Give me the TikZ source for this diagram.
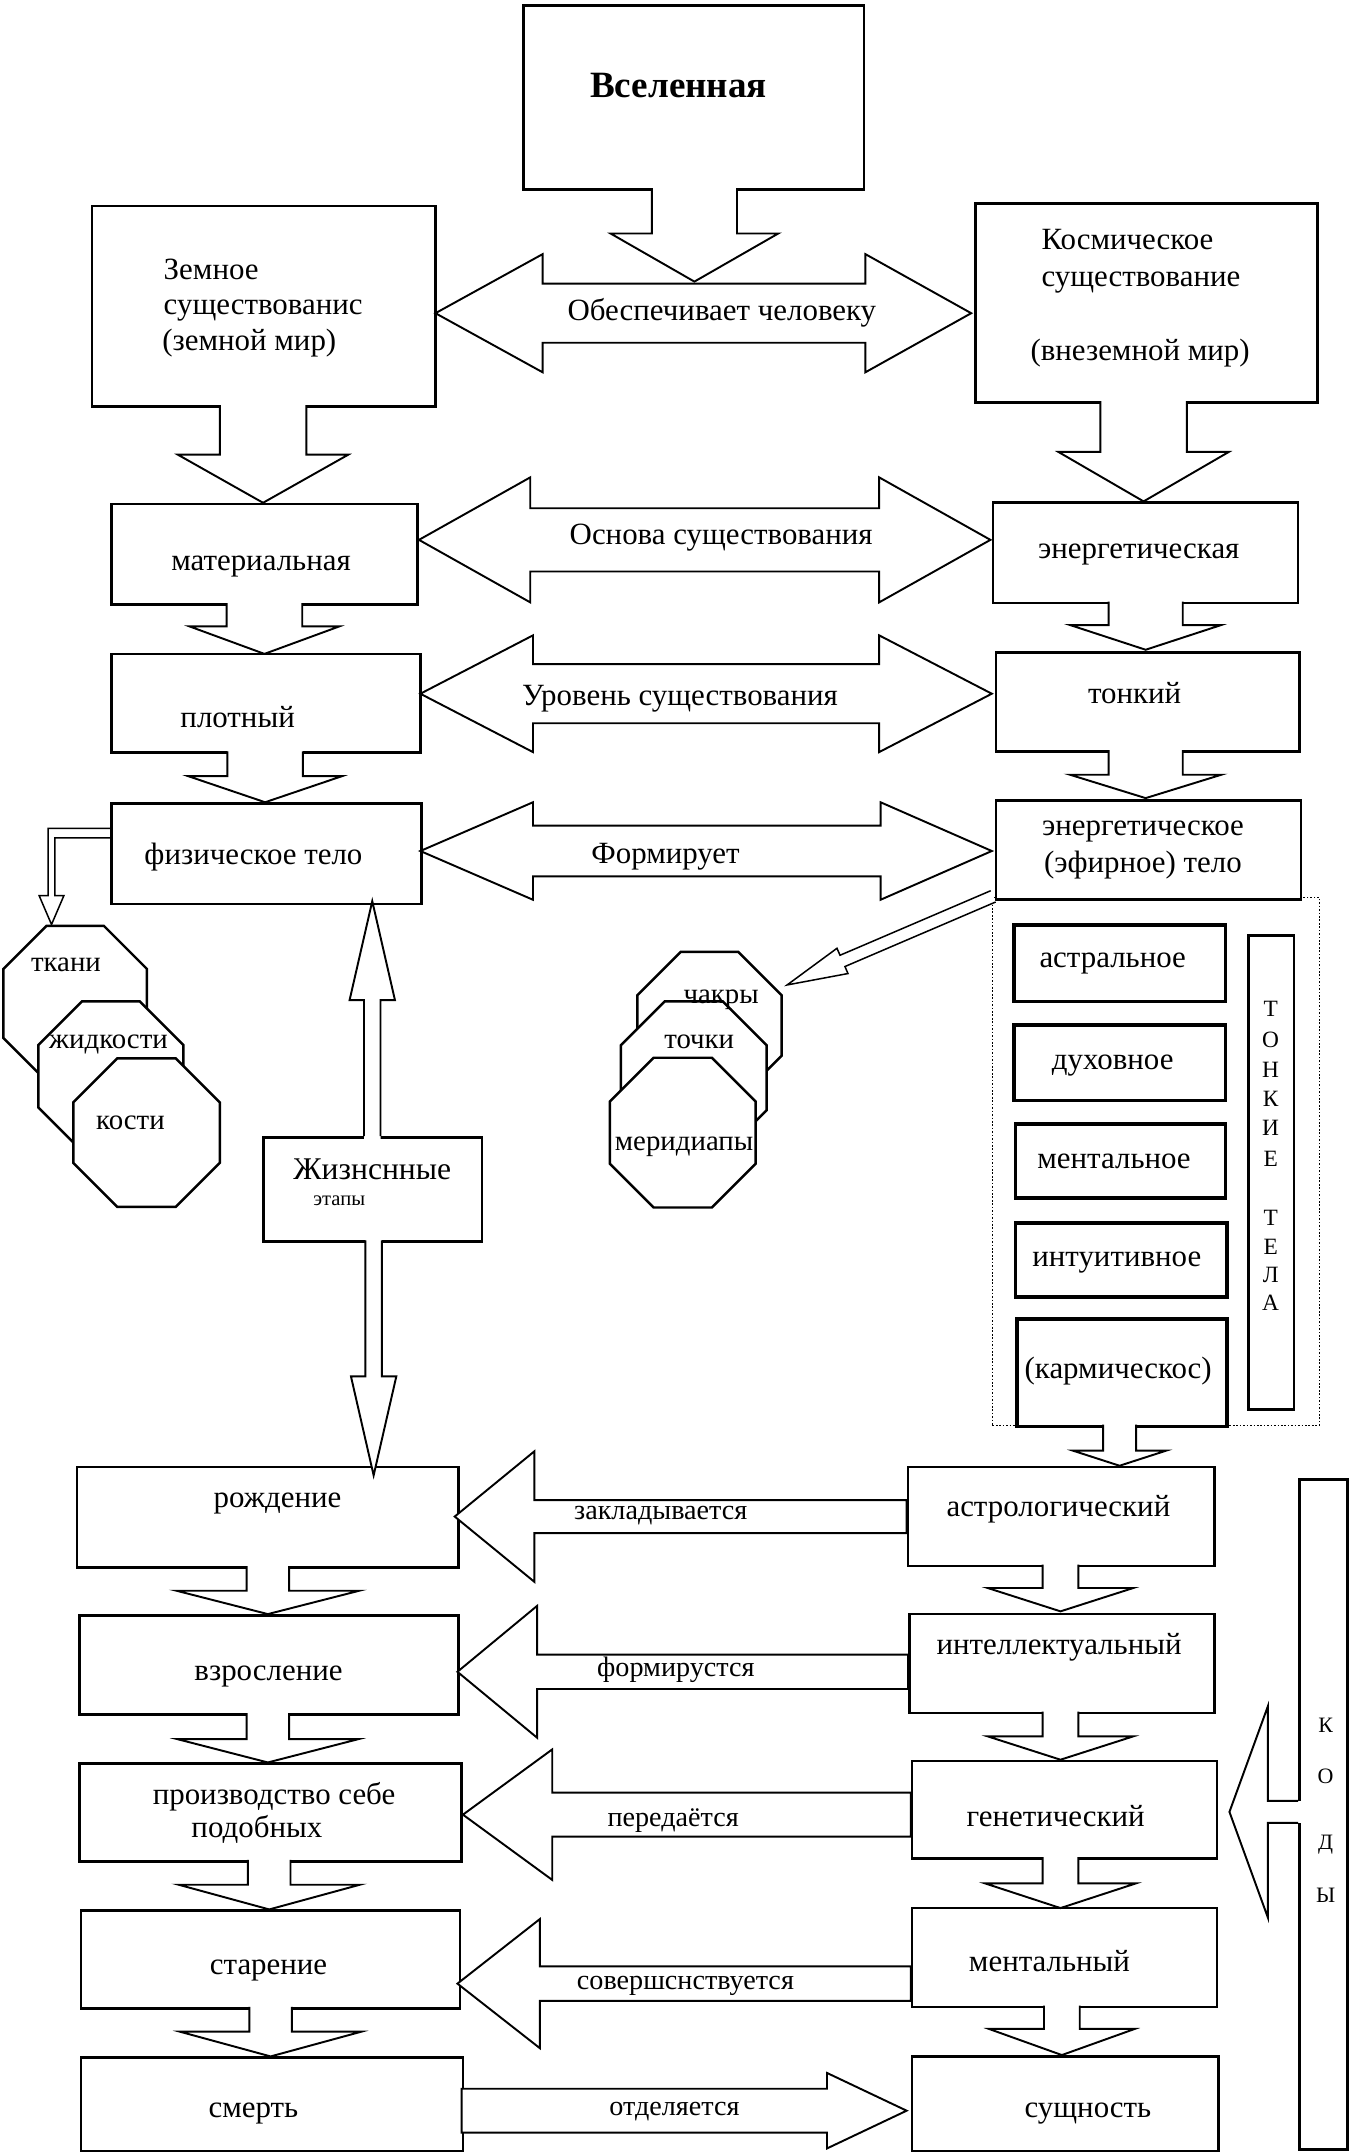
\documentclass[tikz,border=0pt]{standalone}
\usepackage{fontspec}
\setmainfont{Liberation Serif}
\newcommand{\bx}[6][]{\node[box,#1,anchor=north west,minimum width={#5-#3},minimum height={#6-#4}] (#2) at (#3,#4) {};}
% down/up block arrow: cx, ystart, yhead, ytip, shaft half, head half, overlap into source box
\newcommand{\dnarr}[7]{%
  \fill[white] (#1-#5,{#2-(#7)}) -- (#1-#5,#3) -- (#1-#6,#3) -- (#1,#4) -- (#1+#6,#3) -- (#1+#5,#3) -- (#1+#5,{#2-(#7)}) -- cycle;
  \draw[arr] (#1-#5,#2) -- (#1-#5,#3) -- (#1-#6,#3) -- (#1,#4) -- (#1+#6,#3) -- (#1+#5,#3) -- (#1+#5,#2);
}
% double horizontal block arrow: x left tip, x left base, x right base, x right tip, yc, shaft half, head half
\newcommand{\dblarr}[7]{%
  \draw[arr,fill=white] (#1,#5) -- (#2,#5-#7) -- (#2,#5-#6) -- (#3,#5-#6) -- (#3,#5-#7) -- (#4,#5) -- (#3,#5+#7) -- (#3,#5+#6) -- (#2,#5+#6) -- (#2,#5+#7) -- cycle;
}
% single horizontal block arrow: x tip, x base, x end, yc, shaft half, head half
\newcommand{\hsarr}[6]{%
  \draw[arr,fill=white] (#1,#4) -- (#2,#4-#6) -- (#2,#4-#5) -- (#3,#4-#5) -- (#3,#4+#5) -- (#2,#4+#5) -- (#2,#4+#6) -- cycle;
}
\newcommand{\octo}[5]{%
  \pgfmathsetmacro\octc{0.3*(#4-#2)}%
  \draw[oct] (#2+\octc,#3) -- (#4-\octc,#3) -- (#4,#3+\octc) -- (#4,#5-\octc) -- (#4-\octc,#5) -- (#2+\octc,#5) -- (#2,#5-\octc) -- (#2,#3+\octc) -- cycle;
  \coordinate (#1) at ({(#2+#4)/2},{(#3+#5)/2});
}
\begin{document}
\begin{tikzpicture}[x=1pt,y=-1pt,
  box/.style={draw,line width=1.9pt,inner sep=0pt,fill=white},
  ibox/.style={line width=2.5pt},
  arr/.style={line width=1.4pt,line join=miter},
  thinarr/.style={line width=1.1pt,line join=miter},
  oct/.style={draw,line width=1.8pt,fill=white},
  t/.style={inner sep=0pt,text height=0.46em,text depth=0pt,yshift=-5pt,font=\fontsize{22.5}{27}\selectfont},
  ts/.style={t,font=\fontsize{20.5}{24}\selectfont},
  tl/.style={inner sep=0pt,text height=0.66em,text depth=0pt,yshift=-4pt,font=\fontsize{17}{20}\selectfont}]
\useasboundingbox (0,0) rectangle (985,1569.5);

% ---------- top boxes ----------
\bx{vsel}{380}{3}{628}{137}
\bx{zem}{66}{149}{316}{295}
\bx{kosm}{709}{147}{958}{292}
\bx{mat}{80}{366}{303}{439}
\bx{energ}{722}{365}{944}{438}
\bx{plot}{80}{475}{305}{547}
\bx{tonk}{724}{474}{945}{546}
\bx{fiz}{80}{584}{306}{657}
% dotted container of the subtle bodies
\node[draw,line width=1pt,dash pattern=on 1.2pt off 1.3pt,inner sep=0pt,anchor=north west,minimum width=238,minimum height=384] (cont) at (722,653) {};
\bx{ephir}{724}{582}{946}{654}
\bx[ibox]{astr}{737}{672}{891}{728}
\bx[ibox]{duh}{737}{745}{891}{800}
\bx[ibox]{ment}{738}{817}{891}{871}
\bx[ibox]{intu}{738}{889}{892}{943}
\bx[ibox]{karm}{739}{959}{892}{1037}
\bx{tcol}{908}{680}{941}{1025}
\bx{zhizn}{191}{827}{350}{903}
% ---------- bottom boxes ----------
\bx{rozh}{55}{1067}{333}{1140}
\bx{vzros}{57}{1175}{333}{1247}
\bx{proizv}{57}{1283}{335}{1354}
\bx{star}{58}{1390}{334}{1461}
\bx{smert}{58}{1497}{336}{1565}
\bx{astro}{660}{1067}{883}{1139}
\bx{intel}{661}{1174}{883}{1246}
\bx{genet}{663}{1281}{885}{1352}
\bx{mental}{663}{1388}{885}{1460}
\bx{sush}{663}{1496}{886}{1565}
\bx{kody}{945}{1076}{980}{1564}

% ---------- vertical block arrows ----------
\dnarr{505.5}{137}{170}{205}{31}{61}{3}
\dnarr{191.5}{295}{331}{366}{31.5}{62}{3}
\dnarr{832.5}{292}{329}{365}{31.5}{62}{3}
\dnarr{192.5}{439}{456}{476}{27.5}{54.5}{3}
\dnarr{834}{438}{455}{473}{27}{55}{3}
\dnarr{193}{547}{565}{584}{27.5}{56}{3}
\dnarr{834}{546}{564}{581}{27}{55}{3}
\dnarr{815}{1037}{1056}{1067}{12}{34}{0}
\dnarr{195}{1140}{1158}{1175}{15.5}{66.5}{3}
\dnarr{772}{1139}{1156}{1173}{13}{53}{3}
\dnarr{195}{1247}{1266}{1283}{15.5}{66}{3}
\dnarr{772}{1246}{1264}{1281}{13}{53}{3}
\dnarr{196}{1354}{1372}{1390}{15.5}{66}{3}
\dnarr{772}{1352}{1371}{1389}{13}{55}{3}
\dnarr{197}{1461}{1479}{1497}{15.5}{66}{3}
\dnarr{773}{1460}{1477}{1496}{13}{53}{3}
% life stages arrows
\dnarr{271}{827}{728}{656}{6}{16.5}{-3}
\dnarr{272}{903}{1002}{1074}{6}{16.5}{3}

% ---------- horizontal block arrows ----------
\dblarr{317}{395}{630}{707}{228}{21.5}{43}
\dblarr{305}{386}{640}{721}{393}{23}{45.5}
\dblarr{306}{388}{640}{722}{505}{21.5}{42.5}
\dblarr{306}{388}{641}{722}{619.5}{18.5}{35.5}
\hsarr{331}{389}{660}{1104}{12}{47.5}
\hsarr{333}{391}{661}{1217}{12.5}{48}
\hsarr{337}{402}{663}{1321}{16}{47.5}
\hsarr{333}{393}{663}{1444}{12.5}{47}
\hsarr{660}{602}{336}{1536.5}{16}{27.5}

% codes arrow
\fill[white] (942,1311) rectangle (948,1327);
\draw[arr] (kody.west |- 0,1311) -- (923,1311) -- (923,1242) -- (895,1319) -- (923,1396) -- (923,1327) -- (kody.west |- 0,1327);

% thin arrows
\draw[thinarr] (fiz.west |- 0,603) -- (35,603) -- (35,652) -- (28.5,652) -- (37.5,673) -- (46.5,652) -- (40,652) -- (40,610) -- (fiz.west |- 0,610);
\draw[thinarr,fill=white] (721.2,648.4) -- (611.5,695.4) -- (609.3,690.3) -- (573,717) -- (617.3,708.7) -- (615.1,703.6) -- (724.8,656.6);

% ---------- octagons ----------
\octo{tkani}{2.4}{674}{107}{787}
\octo{zhid}{28}{729}{133.5}{838}
\octo{kosti}{53.4}{770.5}{160}{878.5}
\octo{chakry}{464}{693}{569}{800}
\octo{tochki}{452}{729}{558}{840}
\octo{merid}{444}{770}{550}{879}

% ---------- texts ----------
\node[t,yshift=-1pt,font=\bfseries\fontsize{27}{32}\selectfont] (vsel-t) at (494,63) {Вселенная};
\node[t,anchor=west] (zem-t1) at (119,196) {Земное};
\node[t,anchor=west] (zem-t2) at (119,222) {существованис};
\node[t,anchor=west] (zem-t3) at (118,248) {(земной мир)};
\node[t,anchor=west] (kosm-t1) at (758,174) {Космическое};
\node[t,anchor=west] (kosm-t2) at (758,201) {существование};
\node[t,anchor=west] (kosm-t3) at (750,255) {(внеземной мир)};
\node[t] (obesp-t) at (525.5,226) {Обеспечивает человеку};
\node[t] (mat-t) at (190,408) {материальная};
\node[t] (osn-t) at (525,389) {Основа существования};
\node[t] (energ-t) at (829,399) {энергетическая};
\node[t] (plot-t) at (173,522) {плотный};
\node[t] (urov-t) at (495,506) {Уровень существования};
\node[t] (tonk-t) at (826,505) {тонкий};
\node[t] (fiz-t) at (184.5,622) {физическое тело};
\node[t] (form-t) at (484.5,621) {Формирует};
\node[t] (ephir-t1) at (832,601) {энергетическое};
\node[t] (ephir-t2) at (832,628) {(эфирное) тело};
\node[t] (astr-t) at (810,697) {астральное};
\node[t] (duh-t) at (810,771) {духовное};
\node[t] (ment-t) at (811,843) {ментальное};
\node[t] (intu-t) at (813,915) {интуитивное};
\node[t] (karm-t) at (814,996) {(кармическос)};
\foreach \L/\Y [count=\i] in {Т/733,О/755,Н/777,К/798,И/819,Е/842,Т/885,Е/906,Л/926,А/947}
  \node[tl] (tt\i) at (925,\Y) {\L};
\node[t,font=\fontsize{23}{27}\selectfont] (zhizn-t1) at (271,851) {Жизнснные};
\node[t,font=\fontsize{15}{18}\selectfont] (zhizn-t2) at (247,870) {этапы};
\node[t,font=\fontsize{21}{25}\selectfont] (tkani-t) at (48,700) {ткани};
\node[t,font=\fontsize{21}{25}\selectfont] (zhid-t) at (79,756) {жидкости};
\node[t,font=\fontsize{21}{25}\selectfont] (kosti-t) at (95,815) {кости};
\node[t,font=\fontsize{21}{25}\selectfont] (chakry-t) at (525,723) {чакры};
\node[t,font=\fontsize{21}{25}\selectfont] (tochki-t) at (509,756) {точки};
\node[t,font=\fontsize{21}{25}\selectfont] (merid-t) at (498,830) {меридиапы};
\node[t] (rozh-t) at (202,1090) {рождение};
\node[ts] (zakl-t) at (481,1099) {закладывается};
\node[t] (astro-t) at (770.5,1097) {астрологический};
\node[t] (vzros-t) at (195.5,1216) {взросление};
\node[ts] (form2-t) at (492,1213) {формирустся};
\node[t] (intel-t) at (771,1197) {интеллектуальный};
\node[t] (proizv-t1) at (199.5,1306) {производство себе};
\node[t] (proizv-t2) at (187,1330) {подобных};
\node[ts] (pered-t) at (490,1322) {передаётся};
\node[t] (genet-t) at (768.5,1322) {генетический};
\node[t] (star-t) at (195.5,1430) {старение};
\node[ts] (sover-t) at (499,1441) {совершснствуется};
\node[t] (mental-t) at (764,1428) {ментальный};
\node[t] (smert-t) at (184.5,1534) {смерть};
\node[ts] (otdel-t) at (491,1533) {отделяется};
\node[t] (sush-t) at (792,1534) {сущность};
\foreach \L/\Y [count=\i] in {К/1254,О/1291,Д/1339,Ы/1378}
  \node[tl,font=\fontsize{16}{19}\selectfont] (kd\i) at (965,\Y) {\L};
\end{tikzpicture}
\end{document}
